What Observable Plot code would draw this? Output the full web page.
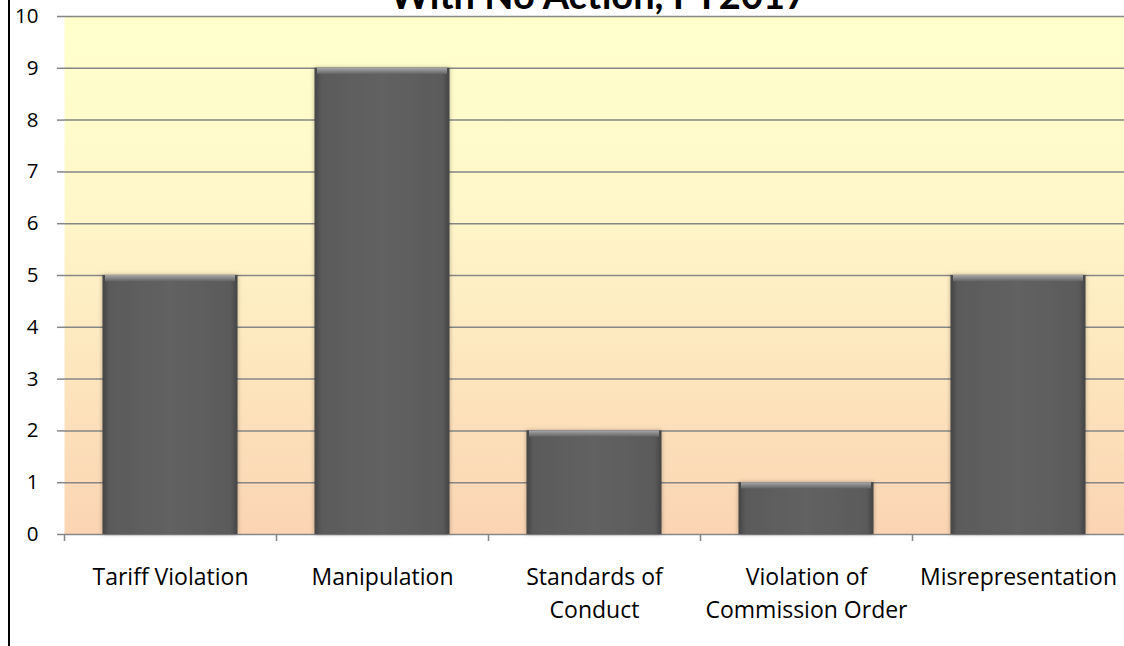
<!DOCTYPE html>
<html>
<head>
<meta charset="utf-8">
<script src="https://cdn.jsdelivr.net/npm/d3@7"></script>
<script src="https://cdn.jsdelivr.net/npm/@observablehq/plot@0.6"></script>
<style>
  html, body { margin: 0; padding: 0; background: #fff; }
  #wrap { position: relative; width: 1124px; height: 646px; overflow: hidden; }
  #border { position: absolute; left: 8px; top: 0; width: 2px; height: 646px; background: #000; z-index: 2; }
</style>
</head>
<body>
<div id="wrap"><div id="border"></div></div>
<script>
const categories = ["Tariff Violation", "Manipulation", "Standards of\nConduct", "Violation of\nCommission Order", "Misrepresentation"];
const counts = [5, 9, 2, 1, 5];
const yTicks = [0, 1, 2, 3, 4, 5, 6, 7, 8, 9, 10];
const titleText = "With No Action, FY2017";

const data = categories.map((c, i) => ({category: c, value: counts[i]}));

const W = 1124, H = 646, ML = 64, MR = 0, MT = 16, MB = 112;
const band = (W - ML - MR) / categories.length;

const defs = () => {
  const ns = "http://www.w3.org/2000/svg";
  const d = document.createElementNS(ns, "defs");
  d.innerHTML = `
    <linearGradient id="bg" x1="0" y1="0" x2="0" y2="1">
      <stop offset="0" stop-color="#FFFFCC"/>
      <stop offset="0.35" stop-color="#FFF8CA"/>
      <stop offset="1" stop-color="#FBD4B3"/>
    </linearGradient>
    <linearGradient id="barGrad" x1="0" y1="0" x2="1" y2="0">
      <stop offset="0" stop-color="#444"/>
      <stop offset="0.05" stop-color="#5a5a5a"/>
      <stop offset="0.5" stop-color="#626262"/>
      <stop offset="0.95" stop-color="#5a5a5a"/>
      <stop offset="1" stop-color="#444"/>
    </linearGradient>
    <linearGradient id="bevel" x1="0" y1="0" x2="0" y2="1">
      <stop offset="0" stop-color="#a8a8a8"/>
      <stop offset="1" stop-color="#646464"/>
    </linearGradient>
    <filter id="glow" x="-10%" y="-10%" width="120%" height="120%">
      <feDropShadow dx="0" dy="0" stdDeviation="2" flood-color="#000" flood-opacity="0.3"/>
    </filter>`;
  return d;
};

const chart = Plot.plot({
  width: W, height: H,
  marginLeft: ML, marginRight: MR, marginTop: MT, marginBottom: MB,
  style: {fontFamily: "'Open Sans', Lato, sans-serif", background: "transparent", overflow: "visible"},
  x: {domain: categories, paddingInner: 0, paddingOuter: 0, label: null},
  y: {domain: [0, 10], label: null},
  marks: [
    defs,
    Plot.frame({fill: "url(#bg)", stroke: null}),
    Plot.gridY(yTicks, {stroke: "#868686", strokeOpacity: 1, strokeWidth: 1.5}),
    Plot.ruleX([0], {frameAnchor: "left", stroke: "#868686", strokeWidth: 1.5}),
    Plot.axisY(yTicks, {tickSize: 7, tickPadding: 19, fontSize: 20.5, stroke: "#868686", strokeWidth: 1.5, color: "#000", label: null, tickFormat: d3.format("d")}),
    Plot.axisX({tickSize: 7, tickPadding: 0, dx: -band / 2, tickFormat: () => "", stroke: "#868686", strokeWidth: 1.5, label: null}),
    Plot.axisX({tickSize: 0, tickPadding: 28, fontSize: 23, lineHeight: 1.4, color: "#000", label: null}),
    Plot.barY(data, {x: "category", y: "value", fill: "url(#barGrad)", insetLeft: 38.5, insetRight: 38.5}),
    Plot.barY(data, {x: "category", y1: "value", y2: d => d.value - 0.12, fill: "url(#bevel)", insetLeft: 41, insetRight: 41}),
    Plot.text([titleText], {fontFamily: "Lato, sans-serif", frameAnchor: "top", lineAnchor: "bottom", dy: -8, dx: 4, fontSize: 38, fontWeight: "bold", fill: "#000"})
  ]
});
const bars = chart.querySelectorAll("g[aria-label='bar']");
if (bars[0]) bars[0].setAttribute("filter", "url(#glow)");
document.getElementById("wrap").appendChild(chart);
</script>
</body>
</html>
